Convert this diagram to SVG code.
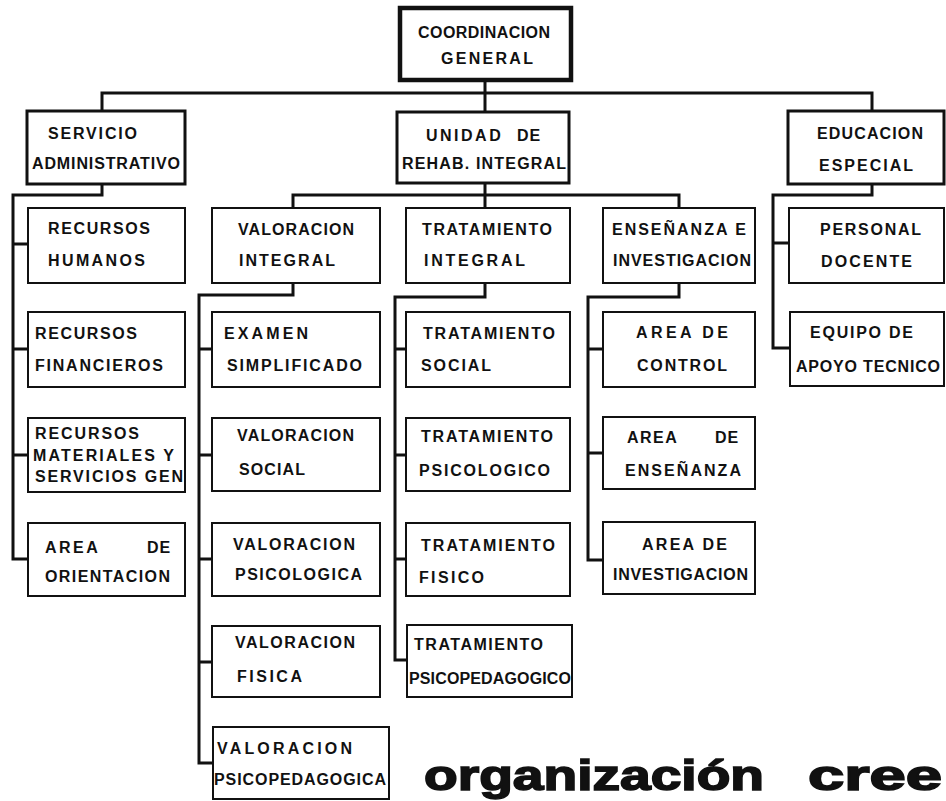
<svg xmlns="http://www.w3.org/2000/svg" width="946" height="801" viewBox="0 0 946 801">
<style>
.bx{fill:#fff;stroke:#111;stroke-width:2}
.b2{stroke-width:3}
.b1{stroke-width:4.5}
.t{font-family:"Liberation Sans",Arial,sans-serif;font-weight:bold;font-size:16px;fill:#111}
.c{fill:none;stroke:#111;stroke-width:3;stroke-linejoin:miter}
.title{font-family:"Liberation Sans",Arial,sans-serif;font-weight:900;font-size:42px;fill:#111;stroke:#111;stroke-width:1.6}
</style>
<rect width="946" height="801" fill="#fff"/>
<g id="connectors">
<path class="c" d="M485 80V112M102 111V93H872V111"/>
<path class="c" d="M102 184V195H13V559H28M13 244H28M13 349H28M13 455H28"/>
<path class="c" d="M485 183V208M293 208V195H679V208"/>
<path class="c" d="M293 283V295H199V763H213M199 349H213M199 455H213M199 559H213M199 662H213"/>
<path class="c" d="M485 283V297H395V660H407M395 349H407M395 455H407M395 559H407"/>
<path class="c" d="M679 283V297H588V560H603M588 349H603M588 453H603"/>
<path class="c" d="M872 184V195H773V348H790M773 243H790"/>
</g>
<g id="coordinacion"><rect class="bx b1" x="400" y="8" width="171" height="72"/>
<text class="t" x="418" y="38" textLength="132">COORDINACION</text>
<text class="t" x="441" y="64" textLength="92">GENERAL</text></g>
<g id="servicio"><rect class="bx b2" x="27" y="111" width="158" height="73"/>
<text class="t" x="48" y="139" textLength="89">SERVICIO</text>
<text class="t" x="32" y="169" textLength="148">ADMINISTRATIVO</text></g>
<g id="unidad"><rect class="bx b2" x="397" y="112" width="172" height="71"/>
<text class="t" x="426" y="141"><tspan letter-spacing="2.5">UNIDAD</tspan> <tspan x="517" letter-spacing="1">DE</tspan></text>
<text class="t" x="402" y="169" textLength="164">REHAB. INTEGRAL</text></g>
<g id="educacion"><rect class="bx b2" x="788" y="111" width="156" height="73"/>
<text class="t" x="817" y="139" textLength="106">EDUCACION</text>
<text class="t" x="819" y="171" textLength="94">ESPECIAL</text></g>

<g id="rec-humanos"><rect class="bx" x="28" y="208" width="157" height="75"/>
<text class="t" x="48" y="234" textLength="102">RECURSOS</text>
<text class="t" x="48" y="266" textLength="97">HUMANOS</text></g>
<g id="rec-financieros"><rect class="bx" x="28" y="312" width="157" height="75"/>
<text class="t" x="35" y="339" textLength="102">RECURSOS</text>
<text class="t" x="35" y="371" textLength="128">FINANCIEROS</text></g>
<g id="rec-materiales"><rect class="bx" x="28" y="418" width="157" height="74"/>
<text class="t" x="35" y="439" textLength="104">RECURSOS</text>
<text class="t" x="33" y="461" textLength="141">MATERIALES Y</text>
<text class="t" x="35" y="482" textLength="148">SERVICIOS GEN</text></g>
<g id="area-orientacion"><rect class="bx" x="28" y="523" width="157" height="73"/>
<text class="t" x="45" y="553"><tspan letter-spacing="2.5">AREA</tspan> <tspan x="147" letter-spacing="1">DE</tspan></text>
<text class="t" x="45" y="582" textLength="125">ORIENTACION</text></g>

<g id="val-integral"><rect class="bx" x="212" y="208" width="168" height="75"/>
<text class="t" x="238" y="235" textLength="116">VALORACION</text>
<text class="t" x="239" y="266" textLength="96">INTEGRAL</text></g>
<g id="examen"><rect class="bx" x="212" y="312" width="168" height="75"/>
<text class="t" x="224" y="339" textLength="84">EXAMEN</text>
<text class="t" x="227" y="371" textLength="135">SIMPLIFICADO</text></g>
<g id="val-social"><rect class="bx" x="212" y="418" width="168" height="73"/>
<text class="t" x="237" y="441" textLength="117">VALORACION</text>
<text class="t" x="239" y="475" textLength="66">SOCIAL</text></g>
<g id="val-psicologica"><rect class="bx" x="212" y="523" width="168" height="73"/>
<text class="t" x="233" y="550" textLength="122">VALORACION</text>
<text class="t" x="235" y="580" textLength="127">PSICOLOGICA</text></g>
<g id="val-fisica"><rect class="bx" x="212" y="626" width="168" height="71"/>
<text class="t" x="235" y="648" textLength="120">VALORACION</text>
<text class="t" x="237" y="682" textLength="65">FISICA</text></g>
<g id="val-psicopedagogica"><rect class="bx" x="213" y="727" width="176" height="72"/>
<text class="t" x="217" y="754" textLength="135">VALORACION</text>
<text class="t" x="214" y="785" textLength="172">PSICOPEDAGOGICA</text></g>

<g id="trat-integral"><rect class="bx" x="406" y="208" width="164" height="75"/>
<text class="t" x="422" y="235" textLength="130">TRATAMIENTO</text>
<text class="t" x="424" y="266" textLength="101">INTEGRAL</text></g>
<g id="trat-social"><rect class="bx" x="406" y="312" width="164" height="75"/>
<text class="t" x="423" y="339" textLength="132">TRATAMIENTO</text>
<text class="t" x="421" y="371" textLength="70">SOCIAL</text></g>
<g id="trat-psicologico"><rect class="bx" x="406" y="418" width="164" height="73"/>
<text class="t" x="421" y="442" textLength="132">TRATAMIENTO</text>
<text class="t" x="419" y="476" textLength="131">PSICOLOGICO</text></g>
<g id="trat-fisico"><rect class="bx" x="406" y="523" width="164" height="73"/>
<text class="t" x="421" y="551" textLength="134">TRATAMIENTO</text>
<text class="t" x="419" y="583" textLength="65">FISICO</text></g>
<g id="trat-psicopedagogico"><rect class="bx" x="407" y="625" width="165" height="72"/>
<text class="t" x="414" y="650" textLength="129">TRATAMIENTO</text>
<text class="t" x="409" y="684" textLength="162">PSICOPEDAGOGICO</text></g>

<g id="ensenanza"><rect class="bx" x="603" y="208" width="152" height="75"/>
<text class="t" x="612" y="235" textLength="134">ENSEÑANZA E</text>
<text class="t" x="613" y="266" textLength="138">INVESTIGACION</text></g>
<g id="area-control"><rect class="bx" x="603" y="312" width="152" height="75"/>
<text class="t" x="636" y="338" textLength="92">AREA DE</text>
<text class="t" x="637" y="371" textLength="90">CONTROL</text></g>
<g id="area-ensenanza"><rect class="bx" x="603" y="417" width="152" height="72"/>
<text class="t" x="627" y="443"><tspan letter-spacing="1.5">AREA</tspan> <tspan x="715" letter-spacing="1">DE</tspan></text>
<text class="t" x="625" y="476" textLength="116">ENSEÑANZA</text></g>
<g id="area-investigacion"><rect class="bx" x="603" y="522" width="152" height="72"/>
<text class="t" x="642" y="550" textLength="85">AREA DE</text>
<text class="t" x="613" y="580" textLength="135">INVESTIGACION</text></g>

<g id="personal-docente"><rect class="bx" x="789" y="208" width="155" height="75"/>
<text class="t" x="820" y="235" textLength="101">PERSONAL</text>
<text class="t" x="821" y="267" textLength="91">DOCENTE</text></g>
<g id="equipo-apoyo"><rect class="bx" x="790" y="312" width="154" height="74"/>
<text class="t" x="810" y="338" textLength="103">EQUIPO DE</text>
<text class="t" x="796" y="372" textLength="144">APOYO TECNICO</text></g>

<g id="title"><text class="title" y="790"><tspan x="424" textLength="340" lengthAdjust="spacingAndGlyphs">organización</tspan> <tspan x="808" textLength="134" lengthAdjust="spacingAndGlyphs">cree</tspan></text></g>
</svg>
